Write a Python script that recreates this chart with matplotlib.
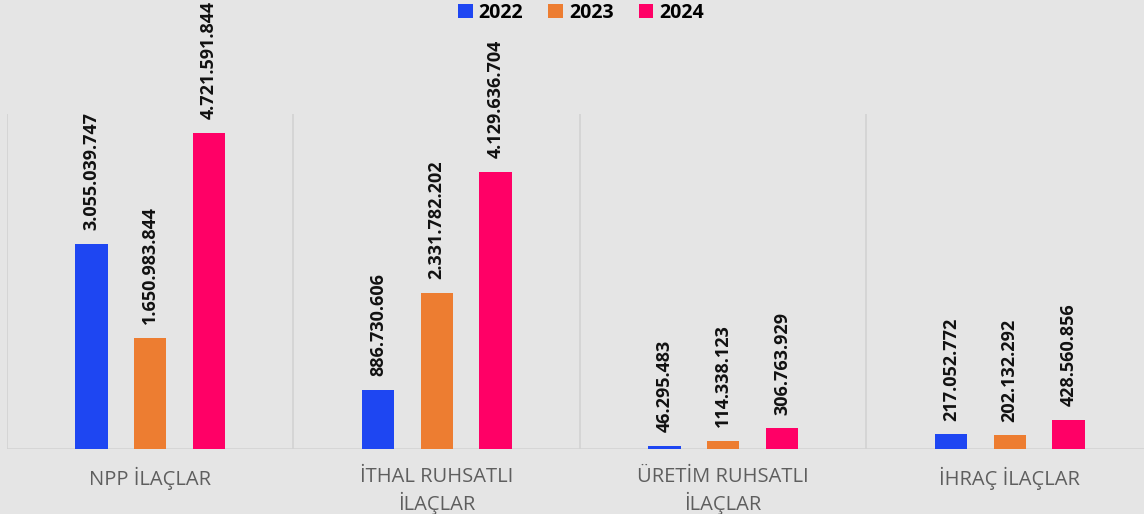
import matplotlib
matplotlib.use("Agg")
import matplotlib.pyplot as plt
from matplotlib.patches import Patch
import numpy as np

plt.rcParams['font.family'] = ['Open Sans', 'DejaVu Sans']

categories = ["NPP İLAÇLAR", "İTHAL RUHSATLI\nİLAÇLAR", "ÜRETİM RUHSATLI\nİLAÇLAR", "İHRAÇ İLAÇLAR"]
years = ["2022", "2023", "2024"]
v2022 = [3055039747, 886730606, 46295483, 217052772]
v2023 = [1650983844, 2331782202, 114338123, 202132292]
v2024 = [4721591844, 4129636704, 306763929, 428560856]
colors = ["#1e46f2", "#ed7d31", "#ff0066"]

fig = plt.figure(figsize=(11.44, 5.14), dpi=100)
fig.patch.set_facecolor("#e5e5e5")
ax = fig.add_axes([7 / 1144, 65 / 514, 1146 / 1144, 335 / 514])
ax.set_facecolor("none")

x = np.arange(len(categories))
offs = [-0.205, 0.0, 0.205]
w = 0.112

for vals, off, col in zip([v2022, v2023, v2024], offs, colors):
    bars = ax.bar(x + off, vals, width=w, color=col, zorder=3)
    for b, v in zip(bars, vals):
        lbl = f"{v:,}".replace(",", ".")
        ax.annotate(lbl, (b.get_x() + b.get_width() / 2, v), xytext=(0, 10),
                    textcoords="offset points", rotation=90, ha="center", va="bottom",
                    fontsize=13, fontweight="bold", color="#111111")

for s in np.arange(-0.5, len(categories) + 0.5, 1):
    ax.axvline(s, color="#d2d2d2", lw=1.2, zorder=1)
ax.axhline(0, color="#d2d2d2", lw=1.8, zorder=2)

ax.set_xlim(-0.5, len(categories) - 0.5)
ax.set_ylim(0, 5e9)
for sp in ax.spines.values():
    sp.set_visible(False)
ax.set_yticks([])
ax.set_xticks(x)
ax.set_xticklabels(categories, fontsize=14.5, color="#5e5e5e", linespacing=1.25, va="top")
ax.tick_params(axis="x", length=0, pad=13)

handles = [Patch(facecolor=c, edgecolor="none") for c in colors]
leg = fig.legend(handles, years, loc="center", bbox_to_anchor=(581 / 1144, 1 - 13 / 514),
                 ncol=3, frameon=False, handlelength=0.75, handleheight=0.75,
                 handletextpad=0.3, columnspacing=1.3, prop={"weight": "bold", "size": 14})

fig.savefig("out.png", dpi=100, facecolor=fig.get_facecolor())
